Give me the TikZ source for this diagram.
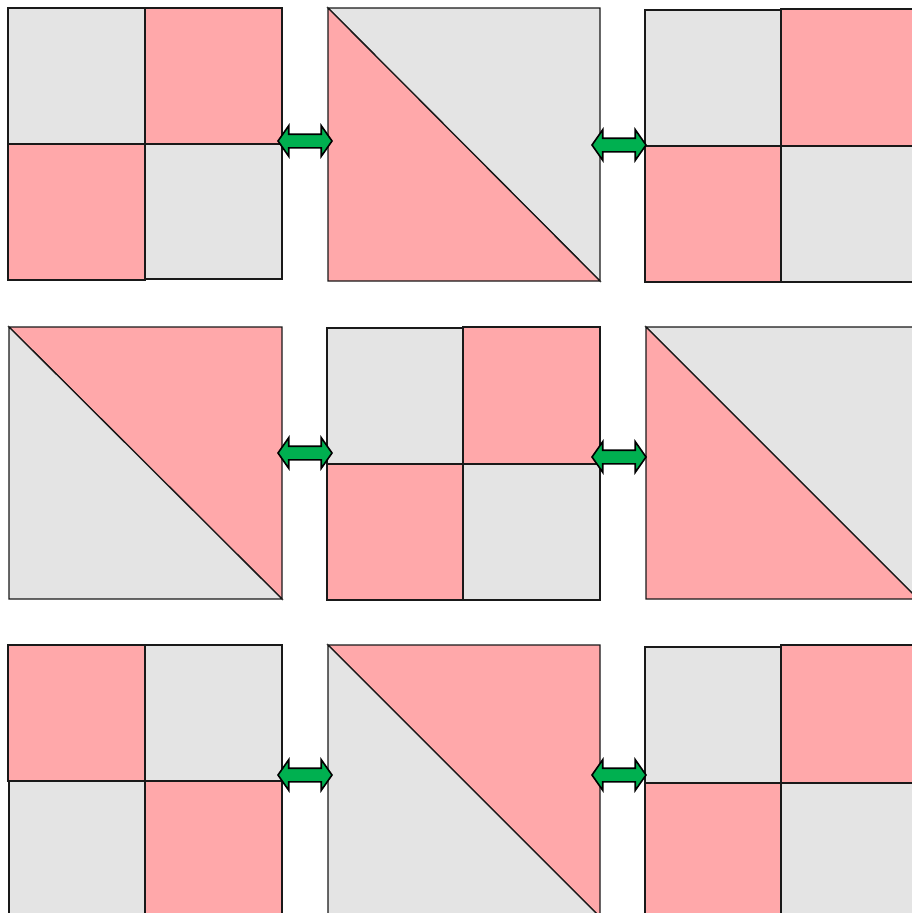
\documentclass[tikz,border=0pt]{standalone}
\usetikzlibrary{shapes.arrows}
\definecolor{cellpink}{RGB}{255,168,170}
\definecolor{cellgrey}{RGB}{228,228,228}
\definecolor{swapgreen}{RGB}{0,176,80}

\begin{document}
\begin{tikzpicture}[x=1pt, y=-1pt,
        pinkcell/.style={fill=cellpink, draw=black!90, line width=1.3pt},
        greycell/.style={fill=cellgrey, draw=black!90, line width=1.3pt},
        swap/.style={shape=double arrow, draw=black, line width=1.6pt, fill=swapgreen,
            inner sep=0pt, inner ysep=6pt, minimum height=54pt,
            double arrow head extend=8.5pt, double arrow tip angle=110}
    ]
        \useasboundingbox (0,0) rectangle (912,913);
        \clip (0,0) rectangle (912,913);

        % row 1
        \draw[greycell] (8,8) rectangle (145,144);
        \draw[pinkcell] (145,8) rectangle (282,144);
        \draw[pinkcell] (8,144) rectangle (145,280);
        \draw[greycell] (145,144) rectangle (282,279);

        \draw[greycell] (328,8) -- (600,8) -- (600,281) -- cycle;
        \draw[pinkcell] (328,8) -- (600,281) -- (328,281) -- cycle;

        \draw[greycell] (645,10) rectangle (781,146);
        \draw[pinkcell] (781,9) rectangle (920,146);
        \draw[pinkcell] (645,146) rectangle (781,282);
        \draw[greycell] (781,146) rectangle (920,282);

        % row 2
        \draw[pinkcell] (9,327) -- (282,327) -- (282,599) -- cycle;
        \draw[greycell] (9,327) -- (282,599) -- (9,599) -- cycle;

        \draw[greycell] (327,328) rectangle (463,464);
        \draw[pinkcell] (463,327) rectangle (600,464);
        \draw[pinkcell] (327,464) rectangle (463,600);
        \draw[greycell] (463,464) rectangle (600,600);

        \draw[greycell] (646,327) -- (920,327) -- (920,601) -- cycle;
        \draw[pinkcell] (646,327) -- (920,601) -- (920,599) -- (646,599) -- cycle;

        % row 3
        \draw[pinkcell] (8,645) rectangle (145,781);
        \draw[greycell] (145,645) rectangle (282,781);
        \draw[greycell] (9,781) rectangle (145,920);
        \draw[pinkcell] (145,781) rectangle (282,920);

        \draw[pinkcell] (328,645) -- (600,645) -- (600,917) -- cycle;
        \draw[greycell] (328,645) -- (600,917) -- (328,917) -- cycle;

        \draw[greycell] (645,647) rectangle (781,783);
        \draw[pinkcell] (781,645) rectangle (920,783);
        \draw[pinkcell] (645,783) rectangle (781,920);
        \draw[greycell] (781,783) rectangle (920,920);

        % swaps
        \node[swap] (s11) at (305,141) {};
        \node[swap] (s12) at (619,145) {};
        \node[swap] (s21) at (305,453) {};
        \node[swap] (s22) at (619,457) {};
        \node[swap] (s31) at (305,775) {};
        \node[swap] (s32) at (619,775) {};
    \end{tikzpicture}
\end{document}
